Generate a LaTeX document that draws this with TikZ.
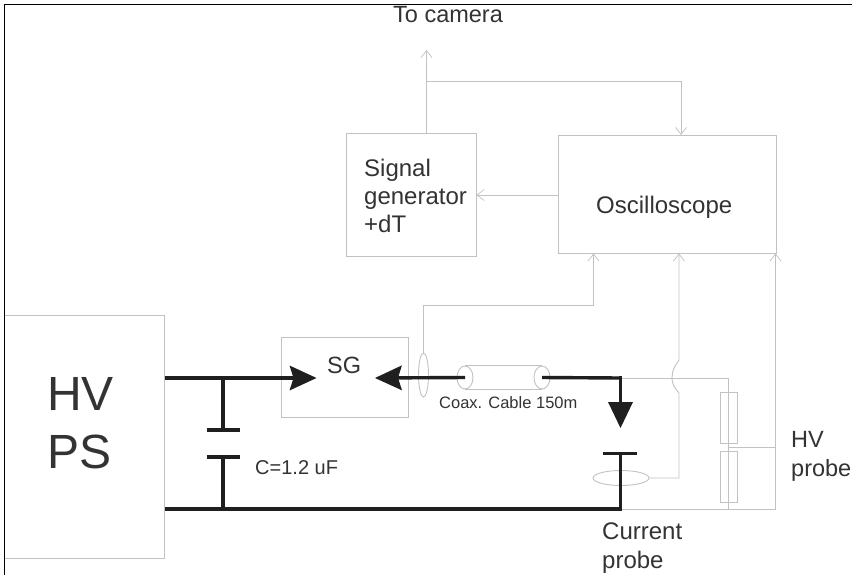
\documentclass[tikz,border=0pt]{standalone}
\usepackage{fontspec}
\setmainfont{Liberation Sans}
\usetikzlibrary{arrows.meta,shapes.geometric}
\definecolor{thin}{gray}{0.76}
\definecolor{ink}{gray}{0.12}
\definecolor{txt}{gray}{0.2}
\tikzset{x=1pt,y=-1pt,
 barb/.tip={Straight Barb[length=7pt,width=11pt,line width=0.7pt]},
 box/.style={draw=thin,line width=1pt,inner sep=0pt},
 loop/.style={ellipse,draw=thin,line width=0.9pt,inner sep=0pt},
 wire/.style={draw=thin,line width=0.9pt},
 arr/.style={wire,-barb},
 power/.style={draw=ink,line width=3.4pt},
 bighead/.style={power,-{Stealth[length=27pt,width=25pt,inset=4pt,line width=0pt]}},
 bigtri/.style={power,-{Triangle[length=26pt,width=25pt,line width=0pt]}},
 lab/.style={text=txt,inner sep=0pt,anchor=west,align=left}}
\begin{document}
\begin{tikzpicture}[line join=miter]
\useasboundingbox (0,0) rectangle (858,583);
\fill[white] (0,0) rectangle (858,583);
% boxes
\node[box,minimum width=160pt,minimum height=243pt] (hv) at (84.5,436.5) {};
\node[box,minimum width=127pt,minimum height=80pt] (sg) at (345,377.5) {};
\node[box,minimum width=130pt,minimum height=123pt] (gen) at (411,195) {};
\node[box,minimum width=218pt,minimum height=118pt] (osc) at (667,194.5) {};
% texts
\node[lab,font=\fontsize{48pt}{58pt}\selectfont] (hvt) at (47,423) {HV\\PS};
\node[lab,font=\fontsize{23.5pt}{28pt}\selectfont] (sgt) at (327,365) {SG};
\node[lab,font=\fontsize{24pt}{28pt}\selectfont] (gent) at (364,196) {Signal\\generator\\+dT};
\node[lab,font=\fontsize{24pt}{28pt}\selectfont] (osct) at (596,207) {Oscilloscope};
\node[lab,font=\fontsize{23.5pt}{28pt}\selectfont] (cam) at (393,15) {To camera};
\node[lab,font=\fontsize{20pt}{24pt}\selectfont] (ct) at (255,468) {C=1.2 uF};
\node[lab,font=\fontsize{16.5pt}{20pt}\selectfont] (cab) at (439,403) {Coax. Cable 150m};
\node[lab,font=\fontsize{23.5pt}{29pt}\selectfont] (hvp) at (791,456) {HV\\probe};
\node[lab,font=\fontsize{24pt}{29pt}\selectfont] (cp) at (602,548) {Current\\probe};
% frame
\coordinate (fa) at (4.7,575);
\coordinate (fb) at (4.7,5);
\coordinate (fc) at (852,5);
\draw[black,line width=1pt] (fa) -- (fb) -- (fc);
% coordinates
\coordinate (camtop) at (426.5,50);
\coordinate (camj) at (426.5,81);
\coordinate (oscr) at (681,81);
\coordinate (a) at (164.5,378);
\coordinate (b) at (164.5,509);
\coordinate (c) at (223,378);
\coordinate (c1) at (223,430);
\coordinate (c2) at (223,457);
\coordinate (d) at (223,509);
\coordinate (e) at (620.5,378);
\coordinate (e0) at (620.5,376.3);
\coordinate (e1) at (620.5,453.5);
\coordinate (e2) at (620.5,428);
\coordinate (f) at (620.5,509);
\coordinate (g) at (728.5,378);
\coordinate (h) at (728.5,509);
\coordinate (m) at (728.5,447);
\coordinate (r) at (775.5,447);
\coordinate (rb) at (775.5,509);
\coordinate (t1) at (316.5,378);
\coordinate (t2) at (375,378);
\coordinate (lev) at (0,195);
\coordinate (bus) at (0,305);
\coordinate (p1) at (679,478);
\coordinate (p2) at (679,393);
\coordinate (p3) at (672,377.5);
\coordinate (p4) at (679,360);
% signal wiring
\draw[arr] (camj |- gen.north) -- (camtop);
\draw[arr] (camj) -- (oscr) -- (oscr |- osc.north);
\draw[arr] (osc.west |- lev) -- (gen.east |- lev);
% coax
\node[loop,minimum width=16pt,minimum height=23pt] (cl) at (465,377.5) {};
\node[loop,minimum width=16pt,minimum height=23pt] (cr) at (542,377.5) {};
\draw[wire] (cl.north) -- (cr.north);
\draw[wire] (cl.south) -- (cr.south);
% SG current sense loop
\node[loop,minimum width=10pt,minimum height=44pt] (se) at (423.5,375) {};
\coordinate (oa) at (593.5,253.5);
\draw[arr] (se.north) -- (se.north |- bus) -- (oa |- bus) -- (oa);
% current probe
\node[loop,minimum width=56pt,minimum height=15pt] (pe) at (621,478) {};
\coordinate (ob) at (679,253.5);
\draw[arr] (pe.east) -- (p1) -- (p2) .. controls (675.5,389) and (672,385) .. (p3) .. controls (672,370) and (675.5,365) .. (p4) -- (ob);
% HV divider
\draw[wire] (e) -- (g) -- (h);
\draw[wire] (f) -- (rb);
\coordinate (oc) at (775.5,253.5);
\draw[arr] (rb) -- (oc);
\draw[wire] (m) -- (r);
\node[box,minimum width=17pt,minimum height=51pt] (r1) at (729,417.5) {};
\node[box,minimum width=17pt,minimum height=51pt] (r2) at (729,476.5) {};
% power circuit
\coordinate (pl1) at (206.5,430);
\coordinate (pl2) at (240,430);
\coordinate (pl3) at (206.5,457);
\coordinate (pl4) at (240,457);
\coordinate (pl5) at (603,453.5);
\coordinate (pl6) at (637,453.5);
\draw[bighead] (a) -- (t1);
\draw[power] (b) -- (f) -- (e1);
\draw[power] (c) -- (c1);
\draw[power] (c2) -- (d);
\draw[power] (pl1) -- (pl2);
\draw[power] (pl3) -- (pl4);
\draw[bighead] (cl.center) -- (t2);
\draw[power] (cr.center) -- (e);
\draw[bigtri] (e0) -- (e2);
\draw[power] (pl5) -- (pl6);
\end{tikzpicture}
\end{document}
